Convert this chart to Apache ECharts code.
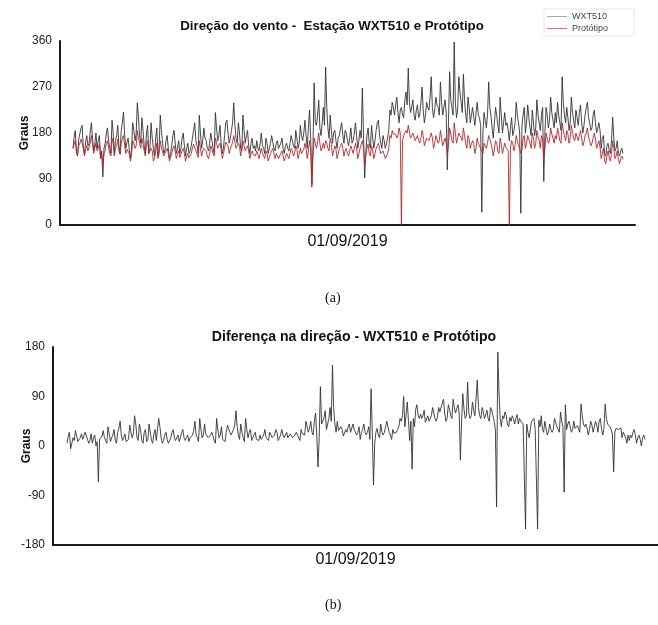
<!DOCTYPE html>
<html><head><meta charset="utf-8">
<script src="https://cdn.jsdelivr.net/npm/echarts@6/dist/echarts.min.js"></script>
<style>html,body{margin:0;padding:0;background:#fff}#c{width:658px;height:625px}</style>
</head><body><div id="c"></div>
<script>
// Direção do vento (graus) - WXT510
const wxt510 = [
150,172,185,140,135,168,170,190,195,150,140,162,175,155,160,182,200,170,145,158,
180,150,165,175,130,145,94,150,160,178,190,165,150,140,205,180,140,165,175,195,
155,140,185,200,221,175,150,162,170,148,130,150,200,185,165,178,239,210,175,160,
210,185,155,140,180,195,140,150,200,170,150,135,170,190,135,150,215,185,160,140,
145,165,175,150,130,140,155,175,185,160,140,150,165,140,150,170,180,155,135,150,
160,140,145,155,170,185,200,165,155,140,215,180,150,165,190,170,165,150,145,160,
180,165,150,140,220,190,165,175,195,160,140,150,175,200,205,180,160,170,185,200,
239,195,170,160,200,180,150,145,215,185,160,175,185,155,140,160,170,150,155,145,
165,150,145,160,180,155,150,140,170,160,140,150,160,175,175,150,145,160,165,150,
150,160,170,150,140,155,160,150,145,160,175,165,155,150,185,170,150,160,195,175,
165,180,205,175,150,190,225,170,80,150,278,200,195,215,244,190,175,200,230,195,
309,230,190,170,215,185,160,180,185,165,150,170,175,190,200,175,160,185,180,165,
155,170,190,160,165,180,200,175,150,165,185,170,268,175,92,140,175,190,160,150,
195,170,150,165,185,200,205,175,160,150,175,165,150,160,170,185,225,215,240,230,
215,235,250,220,200,225,230,215,210,245,260,235,307,240,220,230,245,215,205,225,
235,210,215,240,270,225,200,215,240,230,225,250,290,230,210,225,250,235,230,215,
280,240,215,230,245,220,108,200,300,245,230,215,358,240,210,225,290,260,240,220,
295,245,215,200,250,230,200,215,230,210,195,220,240,215,210,195,25,180,220,205,
190,215,280,230,215,190,170,200,230,215,195,180,250,215,180,200,220,195,200,185,
165,190,210,175,185,200,240,215,200,180,23,195,215,230,180,200,235,210,190,175,
225,200,175,190,245,215,200,185,215,230,85,180,230,215,190,205,250,220,205,190,
220,200,240,215,200,185,290,240,215,200,230,210,185,200,250,220,205,190,225,210,
195,220,235,200,180,195,215,230,240,210,200,185,190,215,225,200,180,190,200,185,
150,170,175,140,135,155,160,145,140,165,211,170,145,150,165,140,135,145,150,140
];
// Direção do vento (graus) - Protótipo
const prototipo = [
150,158,165,145,140,155,160,168,170,150,135,148,155,145,145,160,175,158,140,150,
160,145,150,158,130,138,120,140,145,160,165,152,140,135,170,160,135,150,155,168,
145,138,160,170,175,155,140,148,150,140,125,138,165,160,150,155,185,170,160,150,
170,158,145,135,160,165,140,140,150,145,125,130,145,160,130,140,165,150,145,135,
135,145,150,140,125,132,140,150,155,145,130,138,145,132,135,145,150,140,125,135,
140,132,130,140,150,158,155,145,140,132,165,150,135,145,150,148,145,135,130,140,
155,148,140,135,170,162,150,155,160,148,130,140,150,162,165,155,140,148,155,162,
175,162,150,148,160,155,135,138,165,155,145,150,155,145,130,140,145,138,140,135,
145,138,130,140,150,140,135,130,145,140,125,132,140,145,150,140,130,140,135,130,
135,140,145,135,125,132,140,135,130,140,150,145,135,140,155,148,130,140,150,140,
140,148,160,150,130,145,165,150,74,135,170,160,150,162,180,160,145,150,160,150,
165,160,150,145,170,158,135,145,155,148,130,140,150,155,160,150,135,145,150,140,
135,145,155,148,140,150,160,150,130,140,150,158,165,150,120,135,150,158,140,135,
155,145,130,140,150,155,160,150,140,138,145,142,130,135,140,150,175,170,185,178,
180,178,170,175,190,180,0,165,175,178,185,180,195,182,170,175,180,172,165,170,
175,165,160,170,185,175,155,162,170,168,165,172,180,170,150,160,175,168,160,165,
185,170,155,162,170,160,140,155,190,178,165,160,200,180,160,170,180,175,170,165,
190,175,160,150,175,168,150,158,165,160,140,150,170,160,155,150,145,140,160,155,
150,160,175,168,160,150,135,148,165,160,145,140,170,158,140,150,160,152,150,145,
0,150,165,160,145,155,175,165,155,150,140,148,170,175,150,160,175,168,160,150,
180,170,150,160,185,172,165,150,175,168,135,150,180,170,160,165,190,178,170,160,
175,168,190,178,165,160,200,185,175,165,185,178,160,170,195,182,170,165,180,172,
165,175,185,170,155,162,175,180,190,172,165,155,160,170,180,168,150,158,165,152,
130,140,150,125,120,135,145,132,125,140,165,150,130,135,145,128,120,130,135,128
];
// Diferença na direção (graus)
const diferenca = [
5,18,25,-5,-8,15,10,28,30,8,5,15,22,12,15,25,28,12,5,10,
22,5,15,20,0,8,-65,12,15,18,28,15,10,5,35,22,8,15,20,30,
10,5,25,32,45,20,10,15,22,8,5,12,38,25,15,22,55,40,15,10,
40,28,10,5,25,30,8,12,40,25,10,5,22,30,10,12,50,35,15,5,
10,20,25,12,5,8,15,25,30,15,10,12,20,8,15,25,30,15,10,15,
20,8,15,18,20,28,45,20,15,8,50,30,15,20,40,22,20,15,15,20,
25,18,10,5,50,30,15,20,35,12,10,8,25,38,40,25,20,22,30,38,
64,35,20,12,40,25,15,8,50,30,15,25,30,10,10,20,25,12,15,10,
20,12,15,20,30,15,15,10,25,20,15,18,20,30,25,10,15,20,30,20,
15,20,25,15,15,22,20,15,15,20,25,20,20,10,30,22,20,20,45,35,
25,32,45,25,20,45,60,20,-38,15,108,40,45,52,64,30,30,50,70,45,
147,70,40,25,45,28,25,35,30,18,20,30,25,35,40,25,25,40,30,25,
20,25,35,12,25,30,40,25,20,25,35,12,104,25,-71,5,25,32,20,15,
40,25,20,25,35,45,45,25,20,12,30,23,20,25,30,35,50,45,55,90,
35,57,80,45,10,45,-42,50,35,67,75,55,50,58,50,55,65,43,40,55,
45,45,55,70,70,50,45,53,70,62,60,78,85,60,45,50,75,67,55,50,
85,70,60,68,75,60,-25,45,95,67,50,55,116,60,50,55,80,65,55,55,
120,70,55,50,70,62,50,57,65,50,45,70,65,55,45,30,-111,171,98,50,
35,55,50,62,55,40,35,52,45,55,50,40,50,57,40,50,45,43,40,40,
-151,40,25,15,30,45,45,50,30,30,-151,47,35,55,30,25,45,42,20,25,
40,30,25,30,50,43,35,35,25,62,45,35,-84,75,30,40,45,42,25,30,
45,32,30,37,35,25,76,55,40,35,40,32,20,30,45,38,25,25,45,38,
25,45,50,30,20,33,76,50,40,38,35,30,20,-47,25,32,30,30,30,33,
15,25,20,15,5,20,10,20,15,25,30,20,5,15,20,12,0,15,20,12
];
const seriesNames = ['WXT510', 'Protótipo'];
const dateLabel = '01/09/2019';
const yTicksTop = [0, 90, 180, 270, 360];
const yTicksBottom = [-180, -90, 0, 90, 180];

const pairs = arr => arr.map((v, i) => [i, v]);
const N = wxt510.length;
const font = 'Liberation Sans, Arial, sans-serif';
const chart = echarts.init(document.getElementById('c'));
const axisLine = {show: true, onZero: false, lineStyle: {color: '#1a1a1a', width: 2}};
chart.setOption({
  animation: false,
  textStyle: {fontFamily: font},
  title: [
    {text: 'Direção do vento -  Estação WXT510 e Protótipo', left: 327, top: 15, textAlign: 'center',
     textStyle: {fontSize: 13.3, fontWeight: 'bold', color: '#111', fontFamily: font}},
    {text: 'Diferença na direção - WXT510 e Protótipo', left: 349, top: 325, textAlign: 'center',
     textStyle: {fontSize: 14.1, fontWeight: 'bold', color: '#111', fontFamily: font}}
  ],
  legend: {
    data: seriesNames, orient: 'vertical', left: 544, top: 9, itemWidth: 20, itemHeight: 1,
    itemGap: 3, padding: [3, 26, 3, 3], borderColor: '#e8e8e8', borderWidth: 1,
    icon: 'rect',
    textStyle: {fontSize: 9, color: '#444', fontFamily: font}
  },
  grid: [
    {left: 60, right: 23, top: 41, height: 184, outerBoundsMode: 'none', containLabel: false},
    {left: 53, right: 0, top: 347, height: 198, outerBoundsMode: 'none', containLabel: false}
  ],
  xAxis: [
    {gridIndex: 0, type: 'value', min: -(13 / 550) * (N - 1), max: (N - 1) * (1 + 12 / 550), axisLine: axisLine, axisTick: {show: false},
     axisLabel: {show: false}, splitLine: {show: false},
     name: dateLabel, nameLocation: 'middle', nameGap: 9, nameMoveOverlap: false,
     nameTextStyle: {fontSize: 16, color: '#111', verticalAlign: 'top'}},
    {gridIndex: 1, type: 'value', min: -(14 / 578) * (N - 1), max: (N - 1) * (1 + 13 / 578), axisLine: axisLine, axisTick: {show: false},
     axisLabel: {show: false}, splitLine: {show: false},
     name: dateLabel, nameLocation: 'middle', nameGap: 7, nameMoveOverlap: false,
     nameTextStyle: {fontSize: 16, color: '#111', verticalAlign: 'top'}}
  ],
  yAxis: [
    {gridIndex: 0, type: 'value', min: yTicksTop[0], max: yTicksTop[yTicksTop.length - 1], interval: 90,
     axisLine: axisLine, axisTick: {show: false}, splitLine: {show: false},
     axisLabel: {fontSize: 12, color: '#222', margin: 8},
     name: 'Graus', nameLocation: 'middle', nameGap: 29, nameRotate: 90, nameMoveOverlap: false,
     nameTextStyle: {fontSize: 12, fontWeight: 'bold', color: '#111'}},
    {gridIndex: 1, type: 'value', min: yTicksBottom[0], max: yTicksBottom[yTicksBottom.length - 1], interval: 90,
     axisLine: axisLine, axisTick: {show: false}, splitLine: {show: false},
     axisLabel: {fontSize: 12, color: '#222', margin: 8},
     name: 'Graus', nameLocation: 'middle', nameGap: 20, nameRotate: 90, nameMoveOverlap: false,
     nameTextStyle: {fontSize: 12, fontWeight: 'bold', color: '#111'}}
  ],
  series: [
    {name: seriesNames[0], type: 'line', xAxisIndex: 0, yAxisIndex: 0, data: pairs(wxt510),
     showSymbol: false, lineStyle: {color: '#333333', width: 0.9}, itemStyle: {color: '#aaaaaa'}},
    {name: seriesNames[1], type: 'line', xAxisIndex: 0, yAxisIndex: 0, data: pairs(prototipo),
     showSymbol: false, lineStyle: {color: '#b8262f', width: 0.9}, itemStyle: {color: '#c87a7e'}},
    {name: 'Diferença', type: 'line', xAxisIndex: 1, yAxisIndex: 1, data: pairs(diferenca),
     showSymbol: false, lineStyle: {color: '#333333', width: 0.9}}
  ],
  graphic: [
    {type: 'text', left: 325, top: 291, style: {text: '(a)', font: '14px "Liberation Serif", serif', fill: '#111'}},
    {type: 'text', left: 325, top: 598, style: {text: '(b)', font: '14px "Liberation Serif", serif', fill: '#111'}}
  ]
});
</script></body></html>
